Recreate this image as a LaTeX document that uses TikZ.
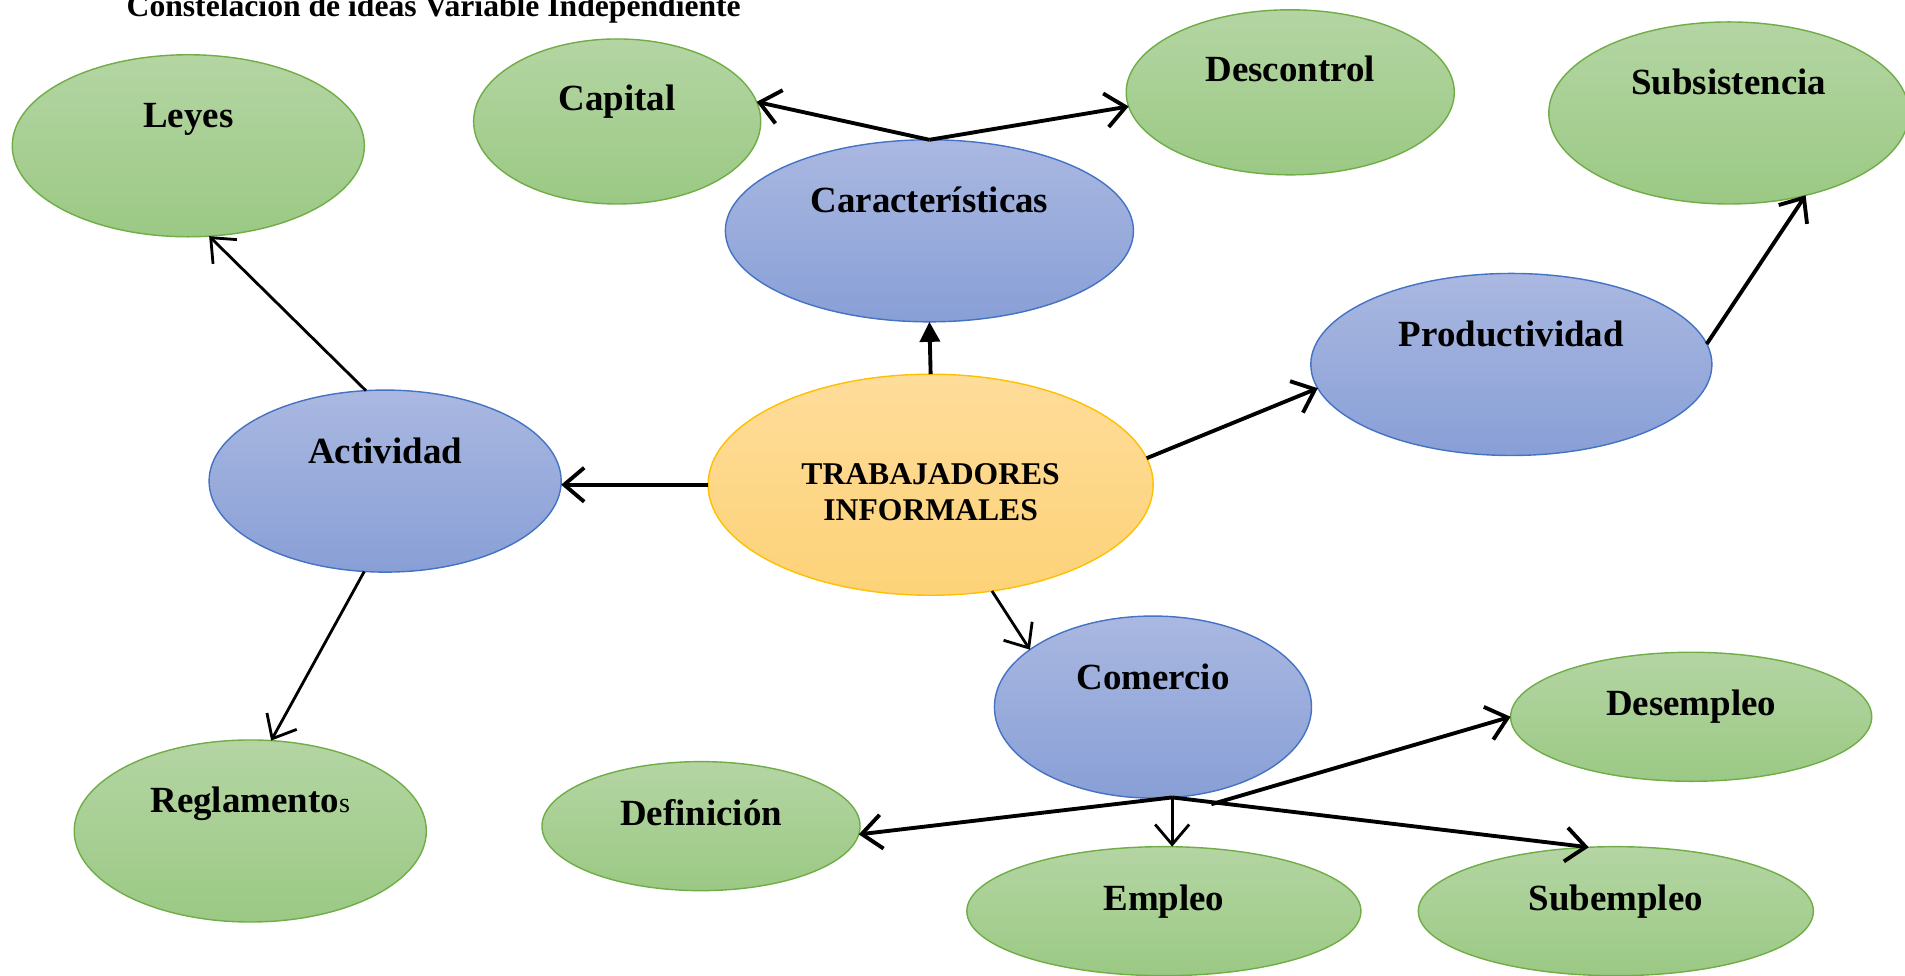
\documentclass[tikz,border=0pt]{standalone}
\usepackage{fontspec}
\setmainfont{Liberation Serif}
\usetikzlibrary{shapes.geometric,arrows.meta}
\definecolor{greenTop}{HTML}{B4D5A3}
\definecolor{greenBot}{HTML}{9BC984}
\definecolor{greenLine}{HTML}{70AD47}
\definecolor{blueTop}{HTML}{AAB8E1}
\definecolor{blueBot}{HTML}{889FD6}
\definecolor{blueLine}{HTML}{4472C4}
\definecolor{orangeTop}{HTML}{FEDC9A}
\definecolor{orangeBot}{HTML}{FDD278}
\definecolor{orangeLine}{HTML}{FFC000}
\begin{document}
\begin{tikzpicture}[x=0.01215cm,y=-0.01215cm,
  idea/.style={ellipse,inner sep=0pt,outer sep=0pt,font=\bfseries\fontsize{10.5}{12}\selectfont},
  leaf/.style={idea,draw=greenLine,top color=greenTop,bottom color=greenBot},
  branch/.style={idea,draw=blueLine,top color=blueTop,bottom color=blueBot},
  upper/.style={text height=0.3cm,text depth=0.66cm},
  midupper/.style={text height=0.3cm,text depth=0.52cm},
  flat/.style={text height=0.3cm,text depth=0.32cm},
  link/.style={line width=1.1pt,-{Straight Barb[length=2mm,width=3.4mm]}},
  thinlink/.style={line width=0.8pt,-{Straight Barb[length=2mm,width=3.4mm]}}]
\useasboundingbox (0,0) rectangle (1568,803);

\node[anchor=base,font=\bfseries\fontsize{9}{10}\selectfont] (title) at (357,14) {Constelación de ideas Variable Independiente};

\node[draw=orangeLine,top color=orangeTop,bottom color=orangeBot,ellipse,inner sep=0pt,outer sep=0pt,
  minimum width=4.45cm,minimum height=2.21cm,text height=0.72cm,text depth=0cm,
  font=\bfseries\fontsize{9}{10.4}\selectfont] (trab) at (766,399)
  {\begin{tabular}[b]{@{}c@{}}TRABAJADORES\\INFORMALES\end{tabular}};

\node[branch,upper,minimum width=4.08cm,minimum height=1.82cm] (car) at (765,190) {Características};
\node[branch,upper,minimum width=4.01cm,minimum height=1.82cm] (prod) at (1244,300) {Productividad};
\node[branch,upper,minimum width=3.52cm,minimum height=1.82cm] (act) at (317,396) {Actividad};
\node[branch,upper,minimum width=3.17cm,minimum height=1.82cm] (com) at (949,582) {Comercio};

\node[leaf,upper,minimum width=3.52cm,minimum height=1.82cm] (leyes) at (155,120) {Leyes};
\node[leaf,midupper,minimum width=2.87cm,minimum height=1.65cm] (cap) at (508,100) {Capital};
\node[leaf,midupper,minimum width=3.28cm,minimum height=1.65cm] (desc) at (1062,76) {Descontrol};
\node[leaf,upper,minimum width=3.60cm,minimum height=1.82cm] (subs) at (1423,93) {Subsistencia};
\node[leaf,upper,minimum width=3.52cm,minimum height=1.82cm] (regl) at (206,684) {Reglamento{\fontsize{8}{9}\selectfont\mdseries s}};
\node[leaf,flat,minimum width=3.18cm,minimum height=1.29cm] (def) at (577,680) {Definición};
\node[leaf,flat,minimum width=3.61cm,minimum height=1.29cm] (desem) at (1392,590) {Desempleo};
\node[leaf,flat,minimum width=3.94cm,minimum height=1.29cm] (emp) at (958,750) {Empleo};
\node[leaf,flat,minimum width=3.95cm,minimum height=1.29cm] (sub) at (1330,750) {Subempleo};

\coordinate (fork) at (997,662);

\draw[link] (trab.west) -- (trab.west -| act.east);
\draw[line width=1.1pt,-{Triangle[length=2mm,width=2mm]}] (trab.north) -- (car.south);
\draw[link] (trab.7) -- (prod.187);
\draw[thinlink] (trab.-60) -- (com.155);

\draw[thinlink] (act.102) -- (leyes.-77);
\draw[thinlink] (act.-103) -- (regl.77);

\draw[link] (car.north) -- (cap.8);
\draw[link] (car.north) -- (desc.185);

\draw[link] (prod.6) -- (subs.-47);

\draw[link] (com.-78) -- (def.-3);
\draw[thinlink] (com.-78) -- (com.-78 |- emp.north);
\draw[link] (fork) -- (desem.west);
\draw[link] (com.-78) -- (sub.113);
\end{tikzpicture}
\end{document}
